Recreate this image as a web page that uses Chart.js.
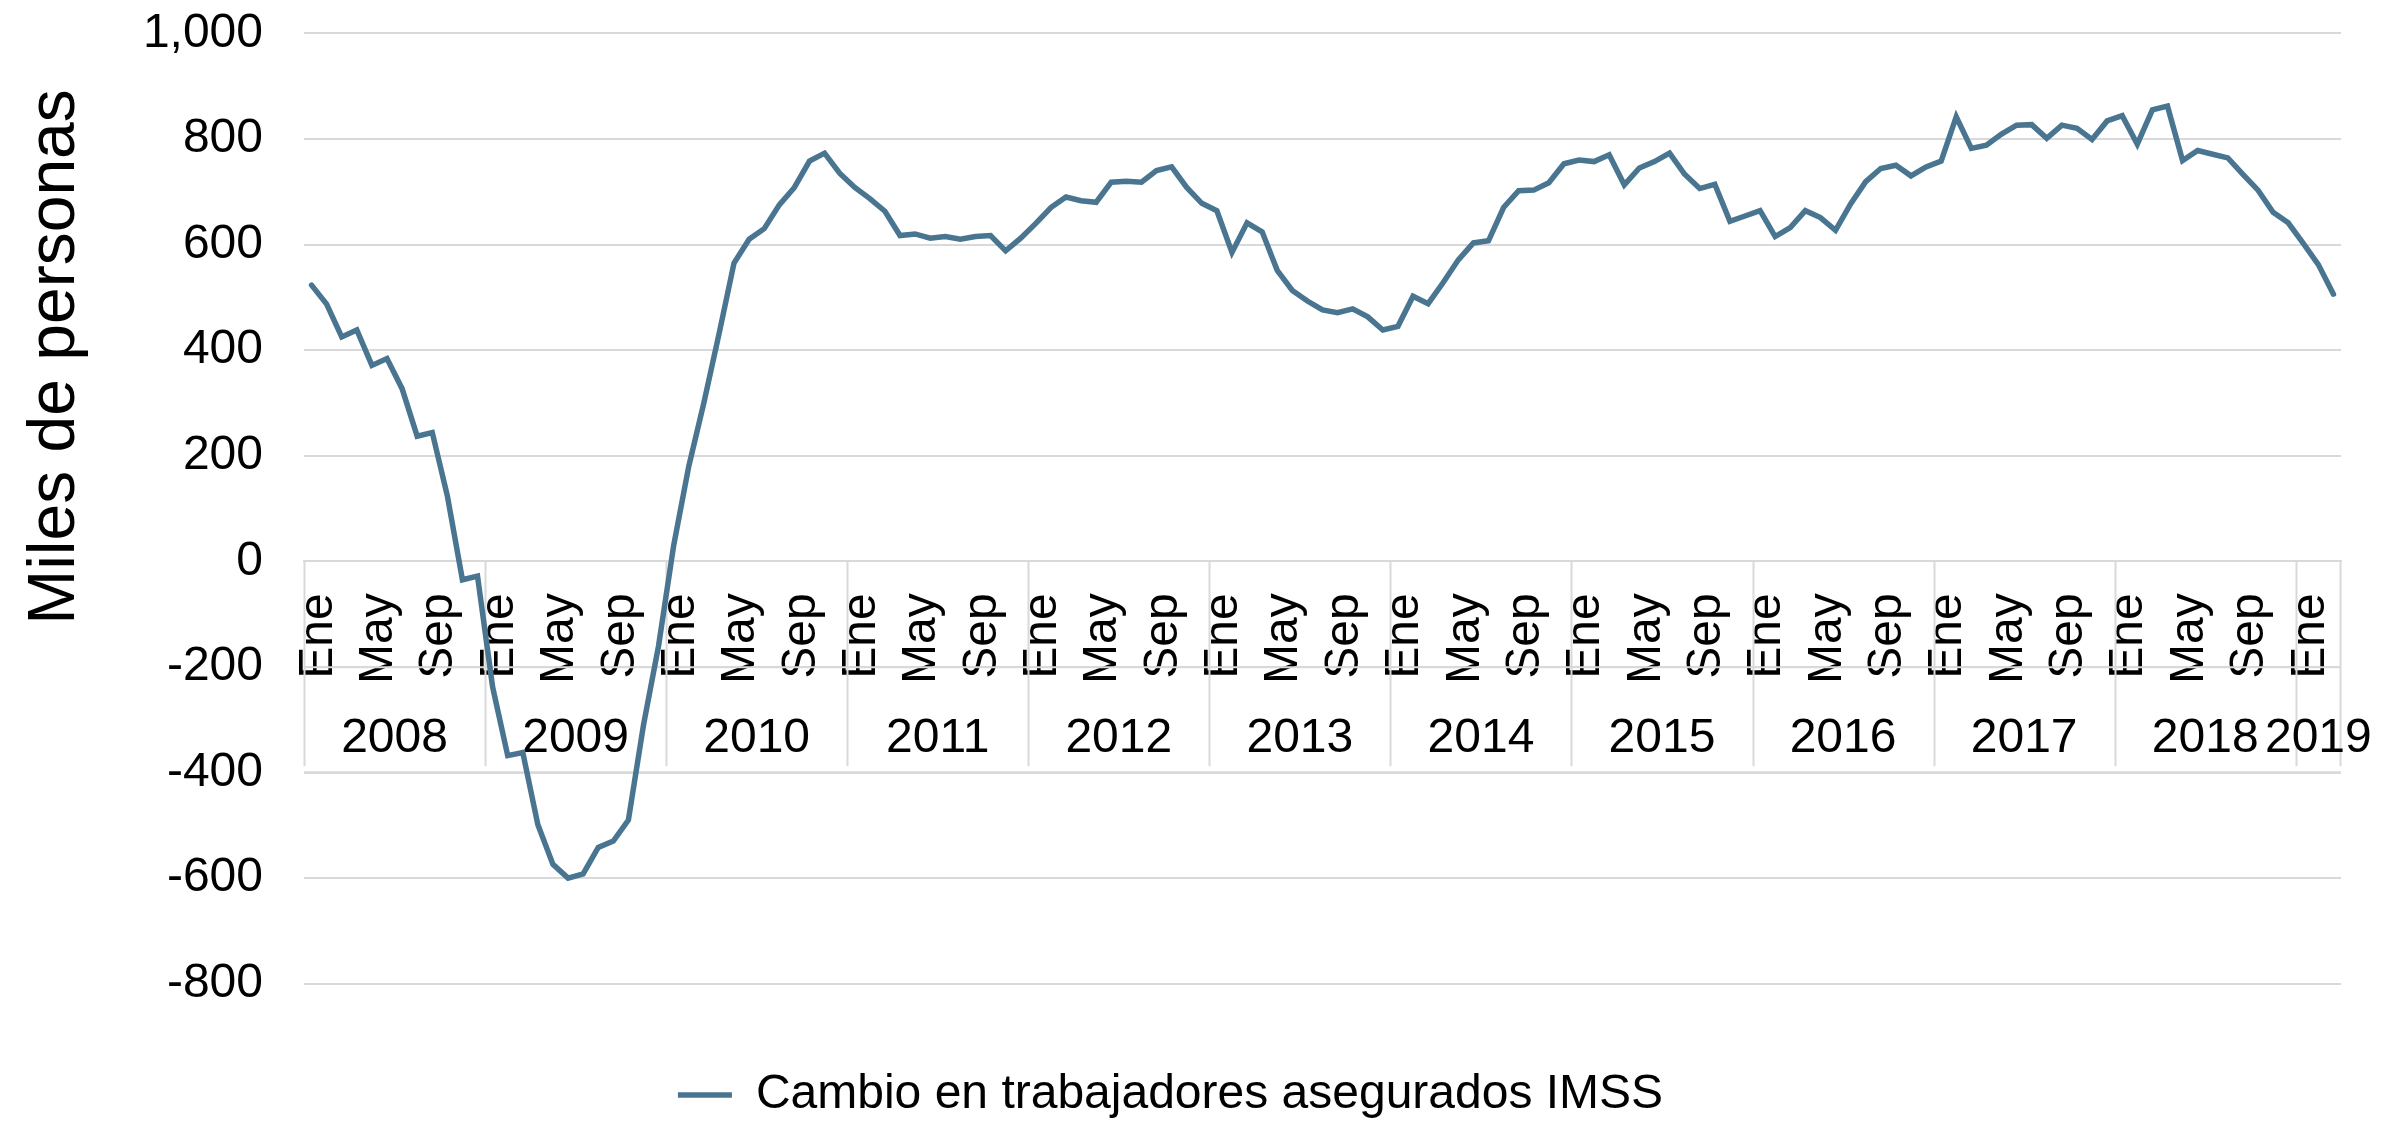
<!DOCTYPE html>
<html>
<head>
<meta charset="utf-8">
<title>Cambio en trabajadores asegurados IMSS</title>
<script src="https://cdn.jsdelivr.net/npm/chart.js@4.4.1/dist/chart.umd.min.js"></script>
<style>
  html, body { margin: 0; padding: 0; background: #fff; }
  canvas { display: block; }
</style>
</head>
<body>
<canvas id="chart" width="2394" height="1129"></canvas>
<script>
/* Cambio anual en trabajadores asegurados IMSS, miles de personas */

const MONTHS = ["Ene", "Feb", "Mar", "Abr", "May", "Jun", "Jul", "Ago", "Sep", "Oct", "Nov", "Dic"];
const SHOWN_MONTHS = ["Ene", "May", "Sep"];
const YEARS = ["2008", "2009", "2010", "2011", "2012", "2013", "2014", "2015", "2016", "2017", "2018", "2019"];
const Y_TICKS = [-800, -600, -400, -200, 0, 200, 400, 600, 800, 1000];

// one array per year (2019 only up to Mar)
const imss2008 = [523, 487, 425, 438, 371, 384, 327, 237, 244, 124, -35, -28];
const imss2009 = [-238, -368, -362, -499, -574, -600, -592, -542, -530, -490, -310, -160];
const imss2010 = [30, 180, 300, 430, 565, 610, 630, 675, 708, 758, 773, 735];
const imss2011 = [708, 687, 663, 617, 620, 612, 615, 610, 615, 617, 588, 612];
const imss2012 = [640, 670, 690, 683, 680, 718, 720, 718, 740, 747, 708, 678];
const imss2013 = [664, 585, 641, 624, 551, 513, 493, 476, 471, 478, 463, 438];
const imss2014 = [445, 502, 488, 528, 571, 603, 607, 670, 702, 703, 717, 753];
const imss2015 = [760, 757, 770, 713, 745, 757, 773, 733, 706, 714, 644, 654];
const imss2016 = [664, 615, 632, 664, 651, 627, 677, 719, 744, 750, 730, 747];
const imss2017 = [758, 842, 782, 788, 809, 826, 827, 801, 826, 820, 799, 834];
const imss2018 = [844, 790, 855, 862, 759, 778, 771, 764, 733, 703, 661, 641];
const imss2019 = [602, 562, 506];

const SERIES_LABEL = "Cambio en trabajadores asegurados IMSS";
const Y_TITLE = "Miles de personas";

const LINE_COLOR = "#4A7591";
const GRID_COLOR = "#D9D9D9";
const FONT = "'Liberation Sans', Arial, Helvetica, sans-serif";

const byYear = [imss2008, imss2009, imss2010, imss2011, imss2012, imss2013,
                imss2014, imss2015, imss2016, imss2017, imss2018, imss2019];

// flatten to month categories
const monthLabels = [];
const yearOfPoint = [];
const values = [];
byYear.forEach((arr, yi) => {
  arr.forEach((v, mi) => {
    monthLabels.push(MONTHS[mi]);
    yearOfPoint.push(YEARS[yi]);
    values.push(v);
  });
});

const fmtY = v => v.toLocaleString("en-US");

// ---------- year row + box lines under the month labels ----------------
const categoryBox = {
  id: "categoryBox",
  beforeDatasetsDraw(chart) {
    const { ctx } = chart;
    const xs = chart.scales.x;
    const ys = chart.scales.y;
    const top = ys.getPixelForValue(0);
    const mid = top + 106;
    const sepEnd = top + 205;
    const base = top + 211;

    ctx.save();
    ctx.strokeStyle = GRID_COLOR;
    ctx.lineWidth = 2;
    ctx.beginPath();
    ctx.moveTo(xs.left, mid); ctx.lineTo(xs.right, mid);
    ctx.moveTo(xs.left, base); ctx.lineTo(xs.right, base);

    // year groups
    const groups = [];
    yearOfPoint.forEach((y, i) => {
      const g = groups[groups.length - 1];
      if (!g || g.year !== y) groups.push({ year: y, first: i, last: i });
      else g.last = i;
    });
    groups.forEach(g => {
      const x0 = Math.round(xs.getPixelForValue(g.first - 0.5)) + 0.5;
      ctx.moveTo(x0, top); ctx.lineTo(x0, sepEnd);
    });
    const xEnd = Math.round(xs.getPixelForValue(values.length - 0.5)) - 0.5;
    ctx.moveTo(xEnd, top); ctx.lineTo(xEnd, sepEnd);
    ctx.stroke();

    ctx.fillStyle = "#000";
    ctx.font = "48px " + FONT;
    ctx.textAlign = "center";
    ctx.textBaseline = "middle";
    groups.forEach(g => {
      const cx = (xs.getPixelForValue(g.first - 0.5) + xs.getPixelForValue(g.last + 0.5)) / 2;
      ctx.fillText(g.year, cx, top + 177);
    });

    // axis title
    ctx.font = "66px " + FONT;
    ctx.translate(56, 357);
    ctx.rotate(-Math.PI / 2);
    ctx.fillText(Y_TITLE, 0, 0);
    ctx.restore();
  }
};

new Chart(document.getElementById("chart"), {
  type: "line",
  data: {
    labels: monthLabels,
    datasets: [{
      label: SERIES_LABEL,
      data: values,
      borderColor: LINE_COLOR,
      backgroundColor: LINE_COLOR,
      borderWidth: 5.5,
      borderCapStyle: "round",
      pointRadius: 0,
      tension: 0,
      fill: false,
    }],
  },
  options: {
    responsive: false,
    devicePixelRatio: 1,
    animation: false,
    layout: { padding: { left: 0, right: 53, top: 33.3, bottom: 0 } },
    plugins: {
      tooltip: { enabled: false },
      legend: {
        position: "bottom",
        labels: {
          usePointStyle: true,
          pointStyle: "line",
          pointStyleWidth: 54,
          padding: 87.3,
          color: "#000",
          font: { family: FONT, size: 48 },
        },
      },
    },
    scales: {
      x: {
        type: "category",
        offset: true,
        position: { y: 0 },
        grid: { display: false },
        border: { display: true, color: GRID_COLOR, width: 2 },
        ticks: {
          autoSkip: false,
          minRotation: 90,
          maxRotation: 90,
          padding: 24,
          labelOffset: 7,
          color: "#000",
          font: { family: FONT, size: 48 },
          callback: (v, i) => SHOWN_MONTHS.includes(monthLabels[i]) ? monthLabels[i] : "",
        },
        afterFit: s => { s.height = 0; s.paddingLeft = 0; s.paddingRight = 0; },
      },
      y: {
        min: -800,
        max: 1000,
        afterBuildTicks: s => { s.ticks = Y_TICKS.map(v => ({ value: v })); },
        grid: { color: GRID_COLOR, lineWidth: 2, drawTicks: false },
        border: { display: false },
        ticks: {
          padding: 41,
          color: "#000",
          font: { family: FONT, size: 48 },
          callback: v => fmtY(v),
        },
        afterFit: s => { s.width = 304; s.paddingTop = 0; s.paddingBottom = 0; },
      },
    },
  },
  plugins: [categoryBox],
});
</script>
</body>
</html>
